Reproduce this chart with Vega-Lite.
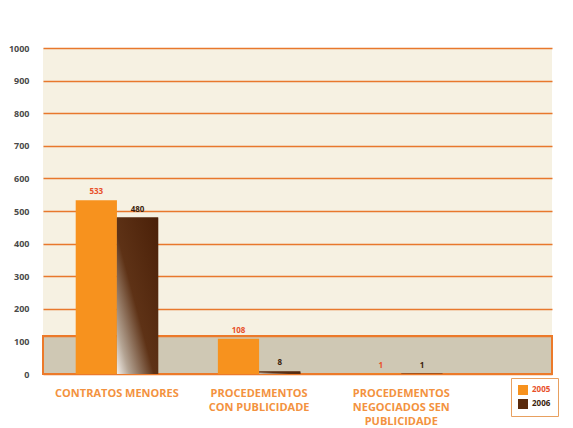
{
  "$schema": "https://vega.github.io/schema/vega-lite/v6.json",
  "width": 573,
  "height": 428,
  "autosize": {"type": "fit", "contains": "padding"},
  "padding": {"left": 8, "top": 44, "right": 20, "bottom": 2},
  "background": "#ffffff",
  "data": {
    "values": [
      {"cat": "CONTRATOS MENORES", "year": "2005", "value": 533},
      {"cat": "CONTRATOS MENORES", "year": "2006", "value": 480},
      {"cat": "PROCEDEMENTOS|CON PUBLICIDADE", "year": "2005", "value": 108},
      {"cat": "PROCEDEMENTOS|CON PUBLICIDADE", "year": "2006", "value": 8},
      {"cat": "PROCEDEMENTOS|NEGOCIADOS SEN|PUBLICIDADE", "year": "2005", "value": 1},
      {"cat": "PROCEDEMENTOS|NEGOCIADOS SEN|PUBLICIDADE", "year": "2006", "value": 1}
    ]
  },
  "encoding": {
    "y": {
      "field": "value",
      "type": "quantitative",
      "title": null,
      "scale": {"domain": [0, 1000]},
      "axis": {
        "values": [0, 100, 200, 300, 400, 500, 600, 700, 800, 900, 1000],
        "format": "d",
        "labelColor": "#4a4a4a",
        "labelFont": "Open Sans",
        "labelFontSize": 9,
        "labelFontWeight": "bold",
        "labelPadding": 14,
        "ticks": false,
        "domain": false,
        "grid": true,
        "gridColor": "#e8782c",
        "gridWidth": 1.5
      }
    }
  },
  "layer": [
    {
      "mark": {"type": "rect", "fill": "#cfc8b4", "stroke": "#ec7a2a", "strokeWidth": 2},
      "encoding": {
        "y": {"datum": 0, "type": "quantitative"},
        "y2": {"datum": 116}
      }
    },
    {
      "mark": {"type": "bar", "stroke": null},
      "encoding": {
        "x": {
          "field": "cat",
          "type": "nominal",
          "sort": null,
          "title": null,
          "scale": {"paddingInner": 0.42, "paddingOuter": 0.5, "align": 0.23},
          "axis": {
            "labelExpr": "split(datum.label, '|')",
            "labelAngle": 0,
            "labelColor": "#f39240",
            "labelFont": "Open Sans",
            "labelFontSize": 11,
            "labelFontWeight": "bold",
            "labelLineHeight": 14,
            "labelPadding": 13,
            "labelBaseline": "top",
            "ticks": false,
            "domain": false
          }
        },
        "xOffset": {"field": "year", "type": "nominal"},
        "color": {
          "field": "year",
          "type": "nominal",
          "scale": {"domain": ["2005", "2006"], "range": ["#f7921e", "#5a2a0c"]},
          "legend": {
            "title": null,
            "orient": "none",
            "legendX": 468,
            "legendY": 330,
            "symbolType": "square",
            "symbolSize": 100,
            "symbolStrokeWidth": 0,
            "labelFont": "Open Sans",
            "labelFontSize": 8,
            "labelFontWeight": "bold",
            "labelColor": {"expr": "datum.label == '2005' ? '#e8502a' : '#3a1e0c'"},
            "strokeColor": "#e8a060",
            "padding": 7,
            "rowPadding": 4,
            "fillColor": "#ffffff"
          }
        }
      }
    },
    {
      "transform": [{"filter": "datum.year == '2006'"}],
      "mark": {
        "type": "bar",
        "stroke": null,
        "fill": {
          "gradient": "linear",
          "x1": 1, "y1": 0, "x2": 0, "y2": 1,
          "stops": [
            {"offset": 0, "color": "#4a2008"},
            {"offset": 0.55, "color": "#5e3216"},
            {"offset": 0.85, "color": "#b4a494"},
            {"offset": 1, "color": "#f4f0ec"}
          ]
        }
      },
      "encoding": {
        "x": {"field": "cat", "type": "nominal", "sort": null},
        "xOffset": {"field": "year", "type": "nominal"}
      }
    },
    {
      "mark": {"type": "text", "dy": -8, "font": "Open Sans", "fontSize": 8, "fontWeight": "bold"},
      "encoding": {
        "x": {"field": "cat", "type": "nominal", "sort": null},
        "xOffset": {"field": "year", "type": "nominal"},
        "text": {"field": "value", "type": "quantitative"},
        "color": {
          "field": "year",
          "type": "nominal",
          "scale": {"domain": ["2005", "2006"], "range": ["#e8502a", "#3a1e0c"]},
          "legend": null
        }
      }
    }
  ],
  "resolve": {"scale": {"color": "independent"}},
  "config": {
    "view": {"fill": "#f6f1e2", "stroke": null}
  }
}
